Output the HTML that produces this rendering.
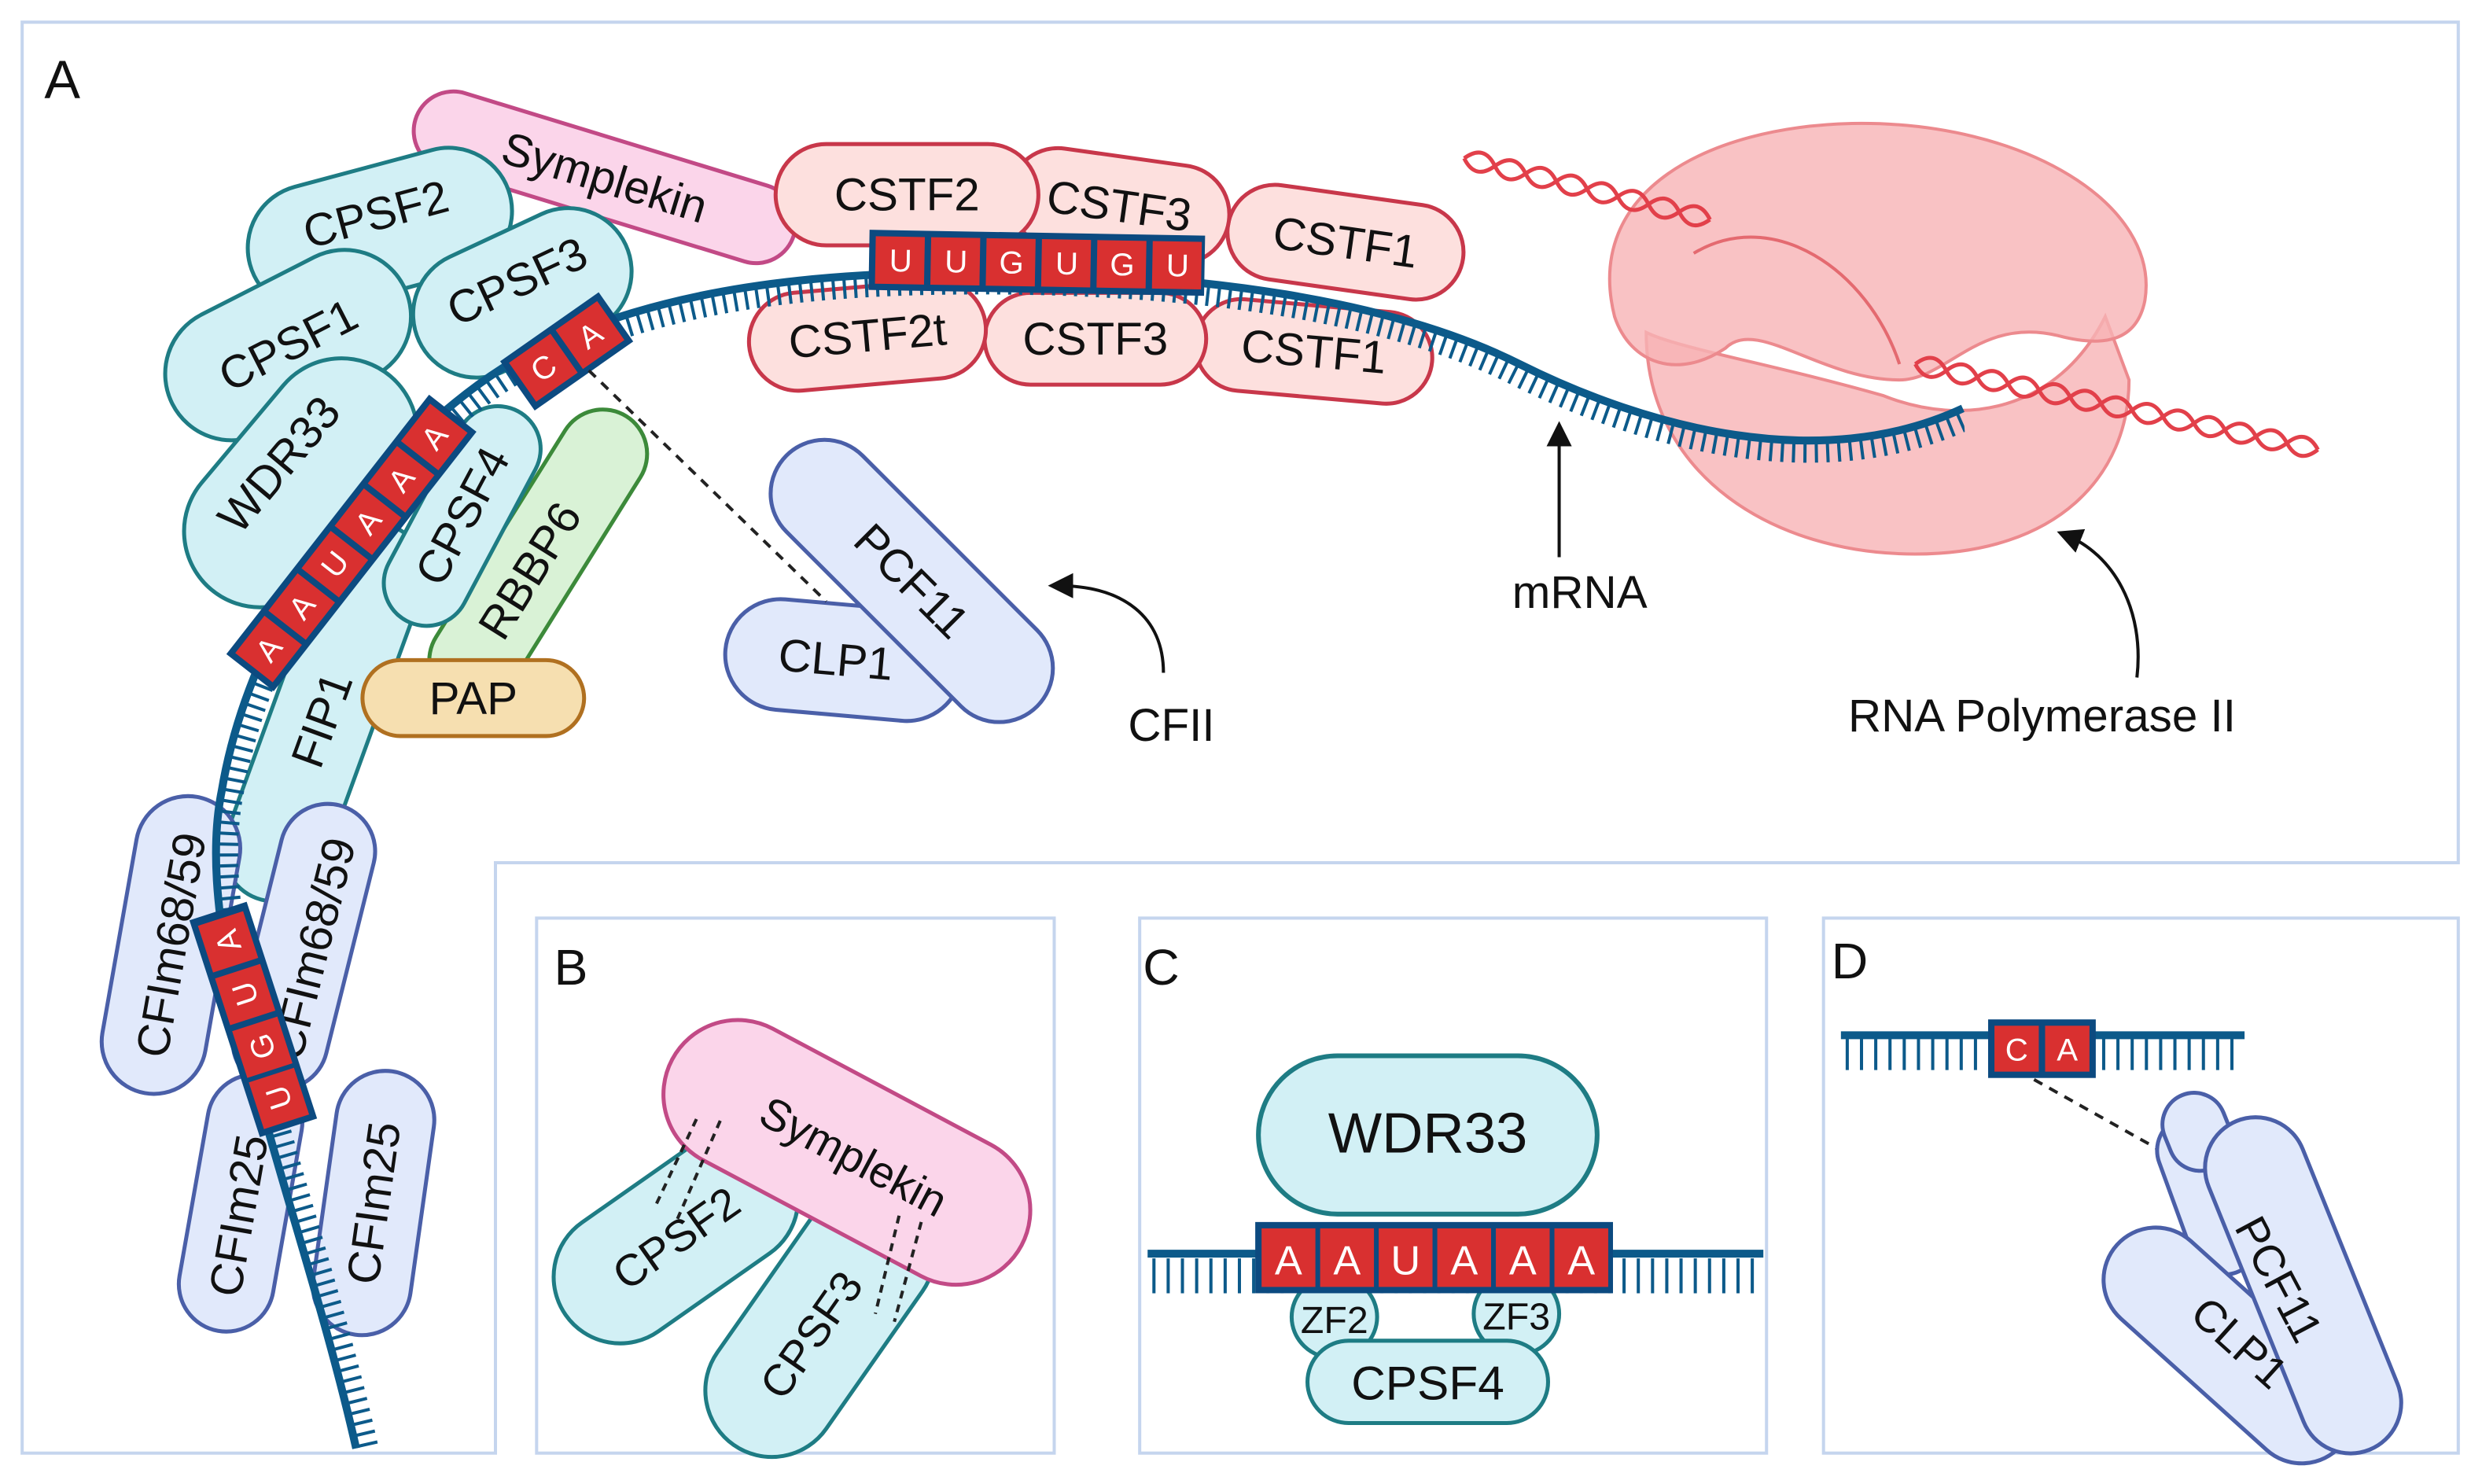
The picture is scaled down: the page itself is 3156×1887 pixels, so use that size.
<!DOCTYPE html>
<html><head><meta charset="utf-8"><style>
html,body{margin:0;padding:0;background:#fff}
svg{display:block}
text{font-family:"Liberation Sans",sans-serif;fill:#111}
</style></head><body>
<svg width="3156" height="1887" viewBox="0 0 1568 937.5" xmlns="http://www.w3.org/2000/svg">
<defs>
<clipPath id="inner"><path d="M225,915 C190,760 120,600 140,500 C160,380 250,270 330,225 C420,180 520,172 620,172 C760,172 880,190 960,230 C1040,270 1150,300 1240,258 L1300,960 L225,960 Z"/></clipPath>
<marker id="ah" markerWidth="8" markerHeight="8" refX="5" refY="4" orient="auto" markerUnits="strokeWidth"><path d="M0,0 L8,4 L0,8 Z" fill="#111"/></marker>
</defs>
<path d="M14,14 H1553 V545 H313 V918 H14 Z" fill="none" stroke="#c5d5ee" stroke-width="2"/>
<rect x="339" y="580" width="327" height="338" fill="none" stroke="#c5d5ee" stroke-width="2"/>
<rect x="720" y="580" width="396" height="338" fill="none" stroke="#c5d5ee" stroke-width="2"/>
<rect x="1152" y="580" width="401" height="338" fill="none" stroke="#c5d5ee" stroke-width="2"/>
<text x="28" y="62" font-size="34">A</text>
<text x="350" y="622" font-size="32">B</text>
<text x="722" y="622" font-size="32">C</text>
<text x="1157" y="618" font-size="32">D</text>

<g fill="#f7b3b5" fill-opacity="0.8" stroke="#ec8a8e" stroke-width="2">
<path d="M1040,210 C1040,300 1120,350 1210,350 C1300,350 1345,300 1345,240 L1330,200 C1300,260 1240,270 1190,250 C1120,230 1060,220 1040,210 Z"/>
<path d="M1020,200 C1000,120 1080,80 1170,78 C1280,76 1365,130 1355,190 C1350,215 1330,220 1300,212 C1250,200 1230,240 1200,240 C1150,240 1110,200 1090,220 C1060,240 1030,230 1020,200 Z"/>
</g>
<path d="M1070,160 C1120,130 1180,170 1200,230" fill="none" stroke="#e46a70" stroke-width="2"/>
<g fill="none" stroke="#e2404a" stroke-width="2.5">
<path d="M925,100 q10,-12 20,0 t20,0 t20,0 t20,0 t20,0 t20,0 t20,0 t20,0" transform="rotate(14 925 100)"/>
<path d="M925,100 q10,12 20,0 t20,0 t20,0 t20,0 t20,0 t20,0 t20,0 t20,0" transform="rotate(14 925 100)"/>
<path d="M1210,230 q10,-12 20,0 t20,0 t20,0 t20,0 t20,0 t20,0 t20,0 t20,0 t20,0 t20,0 t20,0 t20,0 t20,0" transform="rotate(12 1210 230)"/>
<path d="M1210,230 q10,12 20,0 t20,0 t20,0 t20,0 t20,0 t20,0 t20,0 t20,0 t20,0 t20,0 t20,0 t20,0 t20,0" transform="rotate(12 1210 230)"/>
</g>

<g stroke-width="2.5" font-size="29">
<g transform="translate(382,112) rotate(17)"><rect x="-125" y="-25" width="250" height="50" rx="25" fill="#fbd5ea" stroke="#c24a86"/><text x="0" y="10" text-anchor="middle">Symplekin</text></g>
<g transform="translate(205,450) rotate(-70)"><rect x="-125" y="-32" width="250" height="64" rx="32" fill="#d2f0f5" stroke="#1e7c84"/><text x="-5" y="10" text-anchor="middle">FIP1</text></g>
<g transform="translate(340,352) rotate(-58)"><rect x="-105" y="-28" width="210" height="56" rx="28" fill="#d9f2d6" stroke="#3c8a3a"/><text x="-10" y="10" text-anchor="middle">RBBP6</text></g>
<g transform="translate(292,326) rotate(-62)"><rect x="-75" y="-27" width="150" height="54" rx="27" fill="#d2f0f5" stroke="#1e7c84"/><text x="0" y="10" text-anchor="middle">CPSF4</text></g>
<g transform="translate(240,145) rotate(-15)"><rect x="-85" y="-40" width="170" height="80" rx="40" fill="#d2f0f5" stroke="#1e7c84"/><text x="0" y="0" text-anchor="middle">CPSF2</text></g>
<g transform="translate(330,185) rotate(-25)"><rect x="-72" y="-40" width="144" height="80" rx="40" fill="#d2f0f5" stroke="#1e7c84"/><text x="0" y="2" text-anchor="middle">CPSF3</text></g>
<g transform="translate(182,218) rotate(-27)"><rect x="-82" y="-42" width="164" height="84" rx="42" fill="#d2f0f5" stroke="#1e7c84"/><text x="0" y="10" text-anchor="middle">CPSF1</text></g>
<g transform="translate(190,305) rotate(-50)"><rect x="-88" y="-48" width="176" height="96" rx="48" fill="#d2f0f5" stroke="#1e7c84"/><text x="0" y="-8" text-anchor="middle">WDR33</text></g>
<g transform="translate(299,441)"><rect x="-70" y="-24" width="140" height="48" rx="24" fill="#f6dfb0" stroke="#b07020"/><text x="0" y="10" text-anchor="middle">PAP</text></g>
<g transform="translate(533,417) rotate(5)"><rect x="-75" y="-35" width="150" height="70" rx="35" fill="#e1e9fb" stroke="#4a5fa8"/><text x="-5" y="10" text-anchor="middle">CLP1</text></g>
<g transform="translate(576,367) rotate(45)"><rect x="-112" y="-34" width="224" height="68" rx="34" fill="#e1e9fb" stroke="#4a5fa8"/><text x="0" y="10" text-anchor="middle">PCF11</text></g>
<g transform="translate(850,153) rotate(8)"><rect x="-75" y="-30" width="150" height="60" rx="30" fill="#fde0de" stroke="#c8374a"/><text x="0" y="10" text-anchor="middle">CSTF1</text></g>
<g transform="translate(707,130) rotate(8)"><rect x="-70" y="-31" width="140" height="62" rx="31" fill="#fde0de" stroke="#c8374a"/><text x="0" y="10" text-anchor="middle">CSTF3</text></g>
<g transform="translate(573,123)"><rect x="-83" y="-32" width="166" height="64" rx="32" fill="#fde0de" stroke="#c8374a"/><text x="0" y="10" text-anchor="middle">CSTF2</text></g>
<g transform="translate(830,222) rotate(5)"><rect x="-75" y="-29" width="150" height="58" rx="29" fill="#fde0de" stroke="#c8374a"/><text x="0" y="10" text-anchor="middle">CSTF1</text></g>
<g transform="translate(692,214)"><rect x="-70" y="-29" width="140" height="58" rx="29" fill="#fde0de" stroke="#c8374a"/><text x="0" y="10" text-anchor="middle">CSTF3</text></g>
<g transform="translate(548,212) rotate(-5)"><rect x="-75" y="-31" width="150" height="62" rx="31" fill="#fde0de" stroke="#c8374a"/><text x="0" y="10" text-anchor="middle">CSTF2t</text></g>
<g transform="translate(108,597) rotate(-80)"><rect x="-95" y="-33" width="190" height="66" rx="33" fill="#e1e9fb" stroke="#4a5fa8"/><text x="0" y="10" text-anchor="middle">CFIm68/59</text></g>
<g transform="translate(152,760) rotate(-80)"><rect x="-82" y="-30" width="164" height="60" rx="30" fill="#e1e9fb" stroke="#4a5fa8"/><text x="-8" y="10" text-anchor="middle">CFIm25</text></g>
<g transform="translate(192,598) rotate(-76)"><rect x="-92" y="-30" width="184" height="60" rx="30" fill="#e1e9fb" stroke="#4a5fa8"/><text x="0" y="16" text-anchor="middle">CFIm68/59</text></g>
<g transform="translate(236,760) rotate(-82)"><rect x="-84" y="-31" width="168" height="62" rx="31" fill="#e1e9fb" stroke="#4a5fa8"/><text x="0" y="10" text-anchor="middle">CFIm25</text></g>
</g>

<g clip-path="url(#inner)"><path d="M225,915 C190,760 120,600 140,500 C160,380 250,270 330,225 C420,180 520,172 620,172 C760,172 880,190 960,230 C1040,270 1150,300 1240,258" fill="none" stroke="#0c5a8a" stroke-width="28" stroke-dasharray="2 5"/></g>
<path d="M225,915 C190,760 120,600 140,500 C160,380 250,270 330,225 C420,180 520,172 620,172 C760,172 880,190 960,230 C1040,270 1150,300 1240,258" fill="none" stroke="#0c5a8a" stroke-width="5"/>

<g font-size="20" text-anchor="middle">
<g transform="translate(655,166) rotate(1)"><rect x="-106" y="-19" width="212" height="38" fill="#0c4a80"/>
<g fill="#d93030"><rect x="-102" y="-15" width="31" height="30"/><rect x="-67" y="-15" width="31" height="30"/><rect x="-32" y="-15" width="31" height="30"/><rect x="3" y="-15" width="31" height="30"/><rect x="38" y="-15" width="31" height="30"/><rect x="73" y="-15" width="31" height="30"/></g>
<text x="-86" y="7" style="fill:#fff">U</text><text x="-51" y="7" style="fill:#fff">U</text><text x="-16" y="7" style="fill:#fff">G</text><text x="19" y="7" style="fill:#fff">U</text><text x="54" y="7" style="fill:#fff">G</text><text x="89" y="7" style="fill:#fff">U</text></g>
<g transform="translate(358,222) rotate(-35)"><rect x="-38" y="-19" width="76" height="38" fill="#0c4a80"/><rect x="-34" y="-15" width="32" height="30" fill="#d93030"/><rect x="2" y="-15" width="32" height="30" fill="#d93030"/><text x="-18" y="7" style="fill:#fff">C</text><text x="18" y="7" style="fill:#fff">A</text></g>
<g transform="translate(222,343) rotate(-52)"><rect x="-104" y="-19" width="208" height="38" fill="#0c4a80"/>
<g fill="#d93030"><rect x="-100" y="-15" width="30" height="30"/><rect x="-66" y="-15" width="30" height="30"/><rect x="-32" y="-15" width="30" height="30"/><rect x="2" y="-15" width="30" height="30"/><rect x="36" y="-15" width="30" height="30"/><rect x="70" y="-15" width="30" height="30"/></g>
<text x="-85" y="7" style="fill:#fff">A</text><text x="-51" y="7" style="fill:#fff">A</text><text x="-17" y="7" style="fill:#fff">U</text><text x="17" y="7" style="fill:#fff">A</text><text x="51" y="7" style="fill:#fff">A</text><text x="85" y="7" style="fill:#fff">A</text></g>
<g transform="translate(160,644) rotate(-108)"><rect x="-72" y="-19" width="144" height="38" fill="#0c4a80"/>
<g fill="#d93030"><rect x="-68" y="-15" width="31" height="30"/><rect x="-34" y="-15" width="31" height="30"/><rect x="1" y="-15" width="31" height="30"/><rect x="36" y="-15" width="31" height="30"/></g>
<text x="-52" y="7" style="fill:#fff">U</text><text x="-18" y="7" style="fill:#fff">G</text><text x="17" y="7" style="fill:#fff">U</text><text x="52" y="7" style="fill:#fff">A</text></g>
</g>
<line x1="372" y1="234" x2="522" y2="380" stroke="#222" stroke-width="2" stroke-dasharray="6 5"/>

<line x1="985" y1="352" x2="985" y2="272" stroke="#111" stroke-width="2" marker-end="url(#ah)"/>
<text x="998" y="384" font-size="29" text-anchor="middle">mRNA</text>
<path d="M735,425 C735,390 710,370 668,370" fill="none" stroke="#111" stroke-width="2" marker-end="url(#ah)"/>
<text x="740" y="468" font-size="29" text-anchor="middle">CFII</text>
<path d="M1350,428 C1355,385 1335,350 1305,338" fill="none" stroke="#111" stroke-width="2" marker-end="url(#ah)"/>
<text x="1290" y="462" font-size="29" text-anchor="middle">RNA Polymerase II</text>

<g stroke-width="2.5" font-size="28">
<g transform="translate(518,835) rotate(-55)"><rect x="-95" y="-42" width="190" height="84" rx="42" fill="#d2f0f5" stroke="#1e7c84"/><text x="-10" y="10" text-anchor="middle">CPSF3</text></g>
<g transform="translate(427,782) rotate(-35)"><rect x="-85" y="-42" width="170" height="84" rx="42" fill="#d2f0f5" stroke="#1e7c84"/><text x="0" y="10" text-anchor="middle">CPSF2</text></g>
<g transform="translate(535,728) rotate(28)"><rect x="-125" y="-47" width="250" height="94" rx="47" fill="#fbd5ea" stroke="#c24a86"/><text x="5" y="10" text-anchor="middle">Symplekin</text></g>
</g>
<g stroke="#222" stroke-width="2" stroke-dasharray="5 4">
<line x1="440" y1="707" x2="414" y2="762"/><line x1="455" y1="708" x2="428" y2="770"/>
<line x1="568" y1="768" x2="553" y2="830"/><line x1="582" y1="772" x2="565" y2="835"/>
</g>

<rect x="795" y="667" width="214" height="100" rx="50" fill="#d2f0f5" stroke="#1e7c84" stroke-width="3"/>
<text x="902" y="728" font-size="36" text-anchor="middle">WDR33</text>
<line x1="725" y1="792" x2="1114" y2="792" stroke="#0c5a8a" stroke-width="5"/>
<line x1="728" y1="806" x2="1112" y2="806" stroke="#0c5a8a" stroke-width="22" stroke-dasharray="2 7"/>
<ellipse cx="843" cy="832" rx="27" ry="26" fill="#d2f0f5" stroke="#1e7c84" stroke-width="2.5"/>
<ellipse cx="958" cy="830" rx="27" ry="26" fill="#d2f0f5" stroke="#1e7c84" stroke-width="2.5"/>
<text x="843" y="842" font-size="24" text-anchor="middle">ZF2</text>
<text x="958" y="840" font-size="24" text-anchor="middle">ZF3</text>
<rect x="826" y="847" width="152" height="52" rx="26" fill="#d2f0f5" stroke="#1e7c84" stroke-width="2.5"/>
<text x="902" y="884" font-size="30" text-anchor="middle">CPSF4</text>
<rect x="793" y="772" width="226" height="45" fill="#0c4a80"/>
<g fill="#d93030"><rect x="797" y="776" width="34" height="37"/><rect x="834" y="776" width="34" height="37"/><rect x="871" y="776" width="34" height="37"/><rect x="908" y="776" width="34" height="37"/><rect x="945" y="776" width="34" height="37"/><rect x="982" y="776" width="34" height="37"/></g>
<g font-size="26" text-anchor="middle"><text x="814" y="805" style="fill:#fff">A</text><text x="851" y="805" style="fill:#fff">A</text><text x="888" y="805" style="fill:#fff">U</text><text x="925" y="805" style="fill:#fff">A</text><text x="962" y="805" style="fill:#fff">A</text><text x="999" y="805" style="fill:#fff">A</text></g>

<line x1="1163" y1="654" x2="1418" y2="654" stroke="#0c5a8a" stroke-width="5"/>
<line x1="1166" y1="666" x2="1416" y2="666" stroke="#0c5a8a" stroke-width="20" stroke-dasharray="2 7"/>
<rect x="1256" y="644" width="68" height="37" fill="#0c4a80"/>
<rect x="1260" y="648" width="28" height="29" fill="#d93030"/><rect x="1292" y="648" width="28" height="29" fill="#d93030"/>
<text x="1274" y="670" font-size="20" text-anchor="middle" style="fill:#fff">C</text><text x="1306" y="670" font-size="20" text-anchor="middle" style="fill:#fff">A</text>
<line x1="1285" y1="682" x2="1376" y2="733" stroke="#222" stroke-width="2" stroke-dasharray="6 5"/>
<g stroke="#4a5fa8" stroke-width="2.5" fill="#e1e9fb">
<g transform="translate(1395,755) rotate(70)"><rect x="-52" y="-22" width="104" height="44" rx="22"/></g>
<g transform="translate(1388,715) rotate(68)"><rect x="-25" y="-20" width="50" height="40" rx="20"/></g>
<g transform="translate(1408,850) rotate(42)"><rect x="-95" y="-33" width="190" height="66" rx="33"/></g>
<g transform="translate(1455,812) rotate(68)"><rect x="-112" y="-32" width="224" height="64" rx="32"/></g>
</g>
<text transform="translate(1440,808) rotate(62)" font-size="28" text-anchor="middle" y="10">PCF11</text>
<text transform="translate(1415,848) rotate(42)" font-size="28" text-anchor="middle" y="10">CLP1</text>
</svg>
</body></html>
